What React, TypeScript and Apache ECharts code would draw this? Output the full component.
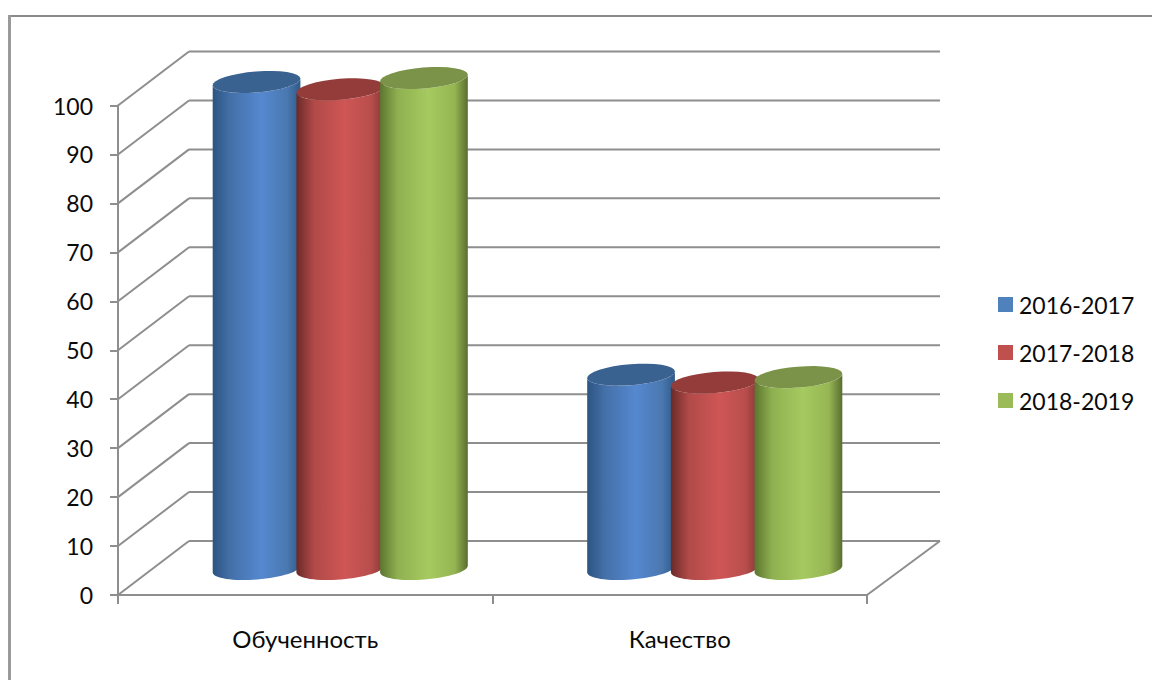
import React, { useEffect, useRef } from "react";
import * as echarts from "echarts";

const categories = ["Обученность", "Качество"];
const yTicks = [0, 10, 20, 30, 40, 50, 60, 70, 80, 90, 100];
const seriesNames = ["2016-2017", "2017-2018", "2018-2019"];
const values2016 = [99.5, 39.7];
const values2017 = [98, 38.1];
const values2018 = [100.3, 39.2];
const legendColors = ["#4f81bd", "#c0504d", "#9bbb59"];
const sideColors = [
  ["#2c5482", "#4470a8", "#5588d0", "#4a78b0", "#2f5a88"],
  ["#6a2a28", "#b04a48", "#cf5655", "#b84e4c", "#853836"],
  ["#5c7630", "#8fb050", "#a6ca60", "#95b552", "#5a6e30"],
];
const topColors = ["#3a6290", "#933c3a", "#7a9348"];

const GRID = "#8e8e8e";
const TEXT = "#0a0a0a";
const FONT = "Lato, Carlito, 'Noto Sans', sans-serif";
const DEPTH_X = 71;
const RIGHT_EXTRA = 2;
const DEPTH_Y = -54;
const BAR_DX = 35;
const BAR_DY = -26;
const BAR_STEP = 83.7;
const RX = 44;
const RY = 10.5;
const TILT = (-4.6 * Math.PI) / 180;
const ARC_STEPS = 32;

function wallItem(params: any, api: any) {
  const tick = api.value(1);
  const g = params.coordSys;
  const y = api.coord([0, tick])[1];
  const left = g.x;
  const right = g.x + g.width;
  const lineStyle = { stroke: GRID, lineWidth: 2, fill: "none" };
  const children: any[] = [
    { type: "line", shape: { x1: left, y1: y, x2: left + DEPTH_X, y2: y + DEPTH_Y }, style: lineStyle },
    { type: "line", shape: { x1: left + DEPTH_X, y1: y + DEPTH_Y, x2: right + DEPTH_X + RIGHT_EXTRA, y2: y + DEPTH_Y }, style: lineStyle },
  ];
  if (tick === 0) {
    children.push({ type: "line", shape: { x1: right, y1: y, x2: right + DEPTH_X + RIGHT_EXTRA, y2: y + DEPTH_Y }, style: lineStyle });
  }
  return { type: "group", children };
}

// Points of a tilted ellipse round (cx, cy), angle t running from t0 to t1.
function ellipsePoints(cx: number, cy: number, t0: number, t1: number) {
  const pts: number[][] = [];
  for (let i = 0; i <= ARC_STEPS; i++) {
    const t = t0 + ((t1 - t0) * i) / ARC_STEPS;
    pts.push([
      cx + RX * Math.cos(t) * Math.cos(TILT) - RY * Math.sin(t) * Math.sin(TILT),
      cy + RX * Math.cos(t) * Math.sin(TILT) + RY * Math.sin(t) * Math.cos(TILT),
    ]);
  }
  return pts;
}

function cylinderItem(seriesIndex: number) {
  return (_params: any, api: any) => {
    const top = api.coord([api.value(0), api.value(1)]);
    const base = api.coord([api.value(0), 0]);
    const cx = top[0] + BAR_DX + (seriesIndex - 1) * BAR_STEP;
    const cyTop = top[1] + BAR_DY;
    const cyBase = base[1] + BAR_DY;
    // Body: the lower half of the base ellipse, closed by the lower half of the top one.
    const bodyPts = [
      ...ellipsePoints(cx, cyBase, Math.PI, 0),
      ...ellipsePoints(cx, cyTop, 0, Math.PI),
    ];
    const capPts = ellipsePoints(cx, cyTop, 0, Math.PI * 2);
    const s = sideColors[seriesIndex];
    return {
      type: "group",
      children: [
        {
          type: "polygon",
          shape: { points: bodyPts },
          style: {
            fill: new echarts.graphic.LinearGradient(0, 0, 1, 0, [
              { offset: 0, color: s[0] },
              { offset: 0.2, color: s[1] },
              { offset: 0.55, color: s[2] },
              { offset: 0.85, color: s[3] },
              { offset: 1, color: s[4] },
            ]),
          },
        },
        { type: "polygon", shape: { points: capPts }, style: { fill: topColors[seriesIndex] } },
      ],
    };
  };
}

export default function App() {
  const ref = useRef<HTMLDivElement>(null);
  useEffect(() => {
    document.body.style.margin = "0";
    const chart = echarts.init(ref.current!, null, { renderer: "svg" });
    const valueLists = [values2016, values2017, values2018];
    chart.setOption({
      animation: false,
      backgroundColor: "#ffffff",
      textStyle: { fontFamily: FONT },
      grid: { left: 118, top: 105.5, width: 749, height: 489.5 },
      legend: {
        orient: "vertical",
        left: 993,
        top: 288,
        itemWidth: 15,
        itemHeight: 15,
        itemGap: 25,
        icon: "rect",
        data: seriesNames,
        textStyle: { fontSize: 23, color: TEXT, fontFamily: FONT, padding: [0, 0, 0, 1] },
      },
      xAxis: {
        type: "category",
        data: categories,
        axisLine: { lineStyle: { color: GRID, width: 2 } },
        axisTick: { show: true, length: 9, lineStyle: { color: GRID, width: 2 } },
        axisLabel: { margin: 31, fontSize: 24, color: TEXT, fontFamily: FONT },
      },
      yAxis: {
        type: "value",
        min: 0,
        max: 100,
        interval: 10,
        axisLine: { show: true, lineStyle: { color: GRID, width: 2 } },
        axisTick: { show: true, length: 8, lineStyle: { color: GRID, width: 2 } },
        axisLabel: { margin: 25, fontSize: 23, color: TEXT, fontFamily: FONT },
        splitLine: { show: false },
      },
      graphic: [
        { type: "rect", shape: { x: 8, y: 15, width: 1144, height: 2 }, style: { fill: "#8a8a8a" } },
        { type: "rect", shape: { x: 8, y: 15, width: 3, height: 665 }, style: { fill: "#9a9a9a" } },
      ],
      series: [
        {
          type: "custom",
          name: "walls",
          coordinateSystem: "cartesian2d",
          renderItem: wallItem,
          data: yTicks.map((t) => [0, t]),
          silent: true,
          z: 1,
        },
        ...seriesNames.map((name, i) => ({
          type: "custom",
          name,
          coordinateSystem: "cartesian2d",
          renderItem: cylinderItem(i),
          itemStyle: { color: legendColors[i] },
          data: valueLists[i].map((v, c) => [c, v]),
          z: 2 + i,
        })),
      ],
    });
    return () => chart.dispose();
  }, []);
  return <div ref={ref} style={{ width: 1152, height: 680 }} />;
}
